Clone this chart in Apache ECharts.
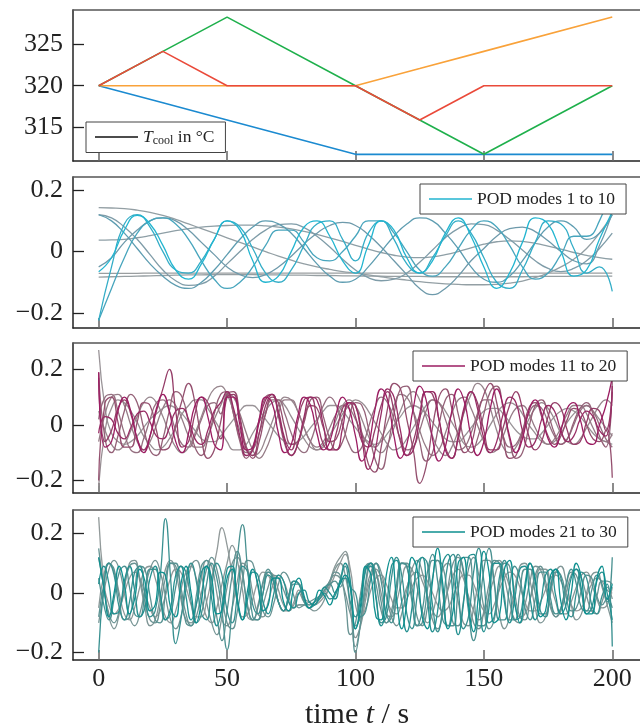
<!DOCTYPE html>
<html><head><meta charset="utf-8">
<script src="https://cdn.jsdelivr.net/npm/echarts@6/dist/echarts.min.js"></script>
<style>html,body{margin:0;padding:0;background:#fff}#c{width:640px;height:727px}</style>
</head><body><div id="c"></div>
<script>
// ---------- Panel 1: coolant temperature ----------
const p1Time = [0, 25, 50, 100, 125, 150, 200];
const p1Blue   = [320, 317.92, 315.83, 311.67, 311.67, 311.67, 311.67];
const p1Orange = [320, 320, 320, 320, 322.08, 324.17, 328.33];
const p1Green  = [320, 324.17, 328.33, 320, 315.83, 311.67, 320];
const p1Red    = [320, 324.17, 320, 320, 315.83, 320, 320];
const p1YTicks = [315, 320, 325];
const xTicks = [0, 50, 100, 150, 200];
const podYTicks = [-0.2, 0, 0.2];

// ---------- Panel 2: POD modes 1-10 (t = 0..200, step 5) ----------
const p2Start = 0, p2Step = 5;
const p2m1 = [-.071,-.071,-.071,-.071,-.070,-.070,-.070,-.070,-.070,-.070,
 -.070,-.070,-.070,-.070,-.070,-.070,-.070,-.070,-.070,-.070,
 -.070,-.070,-.070,-.070,-.070,-.070,-.070,-.070,-.070,-.070,
 -.070,-.070,-.070,-.070,-.070,-.070,-.070,-.070,-.070,-.070,-.070];
const p2m2 = [-.083,-.082,-.081,-.080,-.079,-.078,-.077,-.076,-.076,-.075,
 -.075,-.075,-.075,-.076,-.076,-.077,-.077,-.078,-.078,-.079,
 -.079,-.080,-.080,-.081,-.081,-.081,-.082,-.082,-.082,-.082,
 -.082,-.082,-.082,-.082,-.081,-.081,-.081,-.080,-.080,-.080,-.080];
const p2m3 = [.143,.142,.140,.135,.128,.118,.105,.090,.075,.060,
 .045,.030,.015,0,-.015,-.028,-.040,-.050,-.058,-.065,
 -.070,-.076,-.082,-.088,-.093,-.098,-.102,-.105,-.107,-.108,
 -.108,-.107,-.103,-.096,-.085,-.070,-.050,-.025,.010,.060,.120];
const p2m4 = [.037,.038,.040,.045,.052,.060,.068,.075,.080,.083,
 .085,.086,.086,.084,.080,.074,.066,.056,.045,.033,
 .020,.008,-.003,-.012,-.018,-.020,-.017,-.010,0,.012,
 .024,.032,.035,.033,.027,.018,.008,-.003,-.012,-.020,-.025];
const p2m5 = [.120,.110,.080,.040,-.010,-.060,-.095,-.110,-.105,-.080,
 -.040,0,.040,.070,.088,.090,.078,.050,.015,-.025,
 -.060,-.085,-.095,-.090,-.070,-.035,.005,.045,.075,.090,
 .088,.070,.040,.005,-.030,-.055,-.065,-.055,-.030,.010,.060];
const p2m6 = [-.050,-.020,.030,.070,.100,.110,.100,.070,.030,-.010,
 -.050,-.075,-.085,-.075,-.050,-.015,.025,.060,.085,.095,
 .085,.055,.015,-.030,-.075,-.120,-.140,-.120,-.080,-.030,
 .010,.050,.075,.080,.065,.035,0,-.030,-.040,.020,.130];
const p2m7 = [.120,.100,.060,.010,-.040,-.080,-.110,-.120,-.100,-.060,
 -.010,.040,.080,.100,.090,.060,.010,-.040,-.080,-.100,
 -.090,-.050,0,.050,.090,.110,.100,.060,.010,-.050,
 -.090,-.100,-.080,-.030,.030,.080,.100,.080,.040,.060,.120];
const p2m8 = [-.224,-.120,-.020,.060,.100,.110,.090,.040,-.030,-.090,
 -.120,-.100,-.050,.020,.070,.070,.030,-.020,-.030,0,
 .050,.100,.100,.060,0,-.060,-.080,-.050,.010,.070,
 .100,.080,.020,-.050,-.090,-.070,-.010,.050,.050,.100,.220];
const p2m9 = [-.224,-.050,.090,.120,.080,0,-.060,-.070,-.030,.040,
 .100,.080,.010,-.070,-.100,-.060,.020,.090,.100,.040,
 -.030,.060,.100,.040,-.040,-.070,-.020,.050,.100,.060,
 -.020,-.100,-.120,-.060,.030,.100,.090,.010,-.070,-.050,-.130];
const p2m10 = [-.066,-.020,.070,.118,.090,.020,-.060,-.090,-.040,.040,
 .100,.070,-.030,-.100,-.080,0,.080,.100,.050,-.030,
 -.070,.020,.100,.070,-.020,-.070,-.030,.060,.110,.050,
 -.050,-.120,-.070,.030,.110,.090,0,-.080,-.060,.040,.130];

// ---------- Panel 3: POD modes 11-20 (t = 0..200, step 2.5) ----------
const p3Start = 0, p3Step = 2.5;
const p3m11 = [.27,.06,-.03,-.06,-.07,-.06,-.04,-.01,.02,.04,
 .06,.07,.06,.04,.01,-.02,-.05,-.06,-.06,-.04,
 -.01,.02,.05,.07,.07,.05,.02,-.01,-.04,-.06,
 -.07,-.06,-.04,-.01,.02,.05,.07,.07,.05,.02,
 -.01,-.04,-.06,-.07,-.06,-.03,0,.03,.06,.07,
 .06,.04,.01,-.02,-.05,-.06,-.06,-.04,-.01,.02,
 .05,.06,.06,.04,.01,-.02,-.04,-.05,-.05,-.03,
 0,.03,.05,.06,.05,.03,0,-.03,-.05,-.06,-.07];
const p3m12 = [-.22,-.02,.06,.09,.08,.05,.01,-.04,-.07,-.09,
 -.08,-.05,-.01,.04,.07,.09,.09,.06,.02,-.02,
 -.06,-.09,-.09,-.07,-.03,.01,.05,.08,.09,.07,
 .03,-.01,-.05,-.08,-.09,-.07,-.04,0,.04,.07,
 .09,.08,.05,.01,-.03,-.07,-.09,-.08,-.05,-.01,
 .03,.07,.09,.08,.05,.01,-.03,-.07,-.08,-.07,
 -.04,0,.04,.07,.08,.07,.04,0,-.03,-.06,
 -.07,-.06,-.03,.01,.04,.06,.07,.05,.02,-.01,-.04];
const p3m13 = [.05,-.02,-.07,-.09,-.07,-.02,.03,.08,.10,.08,
 .03,-.03,-.08,-.10,-.08,-.03,.03,.09,.13,.14,
 .11,.05,-.02,-.08,-.11,-.10,-.05,.01,.07,.10,
 .09,.05,-.01,-.06,-.09,-.08,-.04,.02,.07,.09,
 .07,.02,-.04,-.08,-.10,-.07,-.01,.05,.10,.12,
 .09,.03,-.04,-.09,-.11,-.08,-.02,.05,.11,.15,
 .13,.06,-.02,-.08,-.10,-.08,-.03,.02,.06,.08,
 .06,.02,-.03,-.06,-.07,-.05,-.01,.03,.07,.09,.07];
const p3m14 = [-.06,.04,.10,.11,.07,0,-.06,-.09,-.06,0,
 .06,.09,.07,.02,-.04,-.08,-.08,-.04,.02,.07,
 .11,.10,.04,-.03,-.09,-.12,-.09,-.03,.04,.09,
 .09,.05,-.01,-.06,-.08,-.06,-.01,.04,.07,.06,
 .02,-.03,-.07,-.08,-.05,.01,.07,.11,.10,.05,
 -.02,-.08,-.11,-.09,-.03,.04,.09,.10,.06,0,
 -.06,-.10,-.09,-.04,.02,.06,.07,.04,-.01,-.05,
 -.07,-.05,-.01,.04,.07,.07,.04,-.01,-.05,-.06,-.03];
const p3m15 = [.02,.10,.11,.05,-.03,-.09,-.10,-.05,.02,.08,
 .09,.05,-.02,-.07,-.08,-.04,.02,.07,.08,.04,
 .12,.04,-.05,-.10,-.09,-.03,.04,.09,.09,.04,
 -.03,-.08,-.10,-.06,.01,.07,.10,.07,0,-.07,
 -.10,-.08,-.01,.06,.10,.08,.02,-.05,-.09,-.08,
 -.02,.05,.09,.08,.02,-.05,-.09,-.08,-.03,.04,
 .09,.09,.03,-.04,-.08,-.07,-.02,.04,.07,.06,
 .01,-.04,-.07,-.05,0,.05,.07,.05,0,-.05,-.08];
const p3m16 = [.19,-.05,-.10,-.04,.05,.11,.08,-.01,-.09,-.11,
 -.05,.05,.12,.10,.01,-.08,-.11,-.05,.04,.11,
 .12,.04,-.06,-.12,-.08,.02,.10,.11,.03,-.07,
 -.11,-.07,.02,.09,.10,.03,-.05,-.09,-.06,.02,
 .08,.07,-.01,-.12,-.16,-.08,.04,.13,.14,.05,
 -.06,-.13,-.10,0,.09,.11,.04,-.06,-.10,-.05,
 .04,.12,.14,.06,-.05,-.12,-.10,-.01,.07,.09,
 .04,-.03,-.07,-.05,.01,.06,.08,.04,-.04,-.08,.16];
const p3m17 = [-.20,.08,.10,.01,-.08,-.08,.01,.08,.07,-.02,
 -.09,-.08,0,.09,.15,.08,-.05,-.12,-.09,.01,
 .11,.12,.03,-.08,-.12,-.06,.04,.10,.08,-.01,
 -.07,-.06,.01,.07,.06,-.01,-.06,-.05,.02,.08,
 .07,-.03,-.14,-.17,-.08,.06,.15,.13,.02,-.09,
 -.21,-.15,-.01,.10,.13,.06,-.04,-.10,-.07,.03,
 .11,.15,.08,-.04,-.12,-.11,-.03,.06,.08,.03,
 -.04,-.07,-.04,.02,.06,.05,0,-.05,-.06,-.02,-.19];
const p3m18 = [.17,-.06,-.02,.06,.09,.04,-.05,-.09,-.04,.05,
 .13,.20,.05,-.08,-.06,.04,.10,.08,.01,-.05,
 .10,.11,.02,-.09,-.11,-.03,.07,.11,.05,-.05,
 -.09,.01,.09,.10,.02,-.07,-.09,-.03,.06,.08,
 .03,-.06,-.08,-.02,.07,.12,.05,-.06,-.11,-.06,
 .04,.12,.11,.02,-.08,-.12,-.05,.06,.12,.08,
 -.02,-.09,-.09,-.01,.07,.12,.06,-.04,-.09,-.06,
 .03,.08,.06,-.02,-.07,-.06,.01,.06,.05,-.02,.12];
const p3m19 = [-.03,.03,.02,-.03,-.05,-.01,.04,.05,.01,-.04,
 -.05,-.01,.05,.06,.02,-.05,-.07,-.02,.05,.08,
 .12,.06,-.04,-.11,-.09,.01,.09,.11,.04,-.06,
 -.11,-.07,.03,.10,.09,0,-.09,-.09,-.01,.08,
 .07,-.05,-.16,-.10,.04,.13,.10,-.02,-.11,-.09,
 .02,.12,.12,.02,-.09,-.12,-.04,.07,.12,.06,
 -.05,-.10,-.06,.04,.10,.08,-.02,-.08,-.06,.02,
 .07,.05,-.02,-.06,-.04,.02,.05,.03,-.02,-.04,.14];
const p3m20 = [.19,-.08,-.06,.05,.10,.05,-.05,-.10,-.04,.06,
 .11,.05,-.06,-.10,-.03,.07,.10,.03,-.07,-.09,
 .10,.10,0,-.09,-.08,.02,.10,.08,-.03,-.10,
 -.07,.03,.10,.07,-.03,-.09,-.06,.04,.10,.06,
 -.04,-.13,-.08,.05,.13,.09,-.04,-.12,-.07,.06,
 .14,.09,-.05,-.13,-.08,.05,.13,.08,-.04,-.11,
 -.06,.06,.13,.07,-.04,-.10,-.05,.05,.09,.04,
 -.05,-.08,-.02,.06,.08,.02,-.06,-.07,0,.07,.17];

// ---------- Panel 4: POD modes 21-30 (t = 0..200, step 2) ----------
const p4Start = 0, p4Step = 2;
const p4m21 = [.255,.04,-.04,-.07,-.05,0,.05,.07,.05,0,
 -.05,-.08,-.06,-.01,.05,.08,.07,.02,-.04,-.08,
 -.08,-.03,.05,.14,.22,.16,.06,-.03,-.08,-.07,
 -.02,.04,.07,.06,.02,-.03,-.06,-.06,-.03,.01,
 -.02,-.03,-.04,-.03,-.01,.02,.06,.10,.13,.08,
 -.04,-.08,-.05,.01,.05,.06,.03,-.02,-.05,-.05,
 -.02,.02,.05,.06,.04,0,-.04,-.06,-.05,-.01,
 .03,.06,.06,.03,-.02,-.06,-.07,-.04,.01,.05,
 .07,.06,.02,-.03,-.06,-.06,-.03,.01,.05,.06,
 .04,0,-.04,-.06,-.05,-.01,.03,.05,.04,.01,0];
const p4m22 = [-.05,.06,.10,.07,0,-.07,-.09,-.05,.02,.08,
 .09,.05,-.02,-.08,-.10,-.06,.01,.07,.09,.05,
 -.02,-.08,-.10,-.05,.03,.10,.16,.11,.01,-.08,
 -.09,-.04,.03,.07,.06,.01,-.04,-.06,-.04,0,
 -.03,-.04,-.03,-.02,0,.04,.09,.12,.14,.03,
 -.15,-.11,-.02,.05,.08,.05,-.01,-.06,-.07,-.03,
 .02,.06,.07,.04,-.01,-.06,-.08,-.05,.01,.06,
 .08,.05,-.01,-.06,-.09,-.07,-.01,.05,.09,.07,
 .02,-.04,-.08,-.07,-.02,.04,.08,.08,.03,-.03,
 -.07,-.07,-.03,.02,.06,.07,.03,-.02,-.05,-.04,.02];
const p4m23 = [.12,.02,-.08,-.12,-.07,.02,.10,.11,.04,-.05,
 -.11,-.09,-.01,.08,.11,.07,-.02,-.09,-.10,-.04,
 .05,.11,.09,0,-.09,-.11,-.05,.04,.10,.08,
 0,-.07,-.08,-.03,.03,.06,.04,-.01,-.05,-.04,
 -.04,-.05,-.06,-.05,-.02,.03,.08,.10,.06,-.05,
 -.18,-.10,.02,.09,.07,0,-.07,-.08,-.03,.04,
 .09,.08,.02,-.06,-.10,-.07,.01,.08,.10,.05,
 -.03,-.10,-.11,-.05,.04,.11,.11,.03,-.07,-.12,
 -.08,.01,.09,.10,.04,-.05,-.10,-.08,0,.07,
 .09,.04,-.04,-.09,-.07,0,.06,.07,.02,-.04,-.10];
const p4m24 = [-.10,0,.08,.11,.08,0,-.08,-.11,-.07,.01,
 .08,.11,.07,-.01,-.09,-.12,-.08,.01,.09,.11,
 .06,-.03,-.10,-.14,-.08,.02,.10,.12,.06,-.04,
 -.09,-.09,-.04,.02,.06,.05,.01,-.03,-.05,-.04,
 -.04,-.05,-.04,-.02,.01,.04,.06,.05,0,-.07,
 -.11,-.08,0,.07,.10,.07,-.01,-.08,-.11,-.07,
 .01,.08,.11,.07,-.01,-.09,-.12,-.07,.02,.10,
 .12,.07,-.02,-.10,-.12,-.06,.03,.10,.11,.05,
 -.03,-.09,-.10,-.04,.04,.09,.08,.02,-.05,-.08,
 -.06,0,.06,.08,.05,-.01,-.06,-.07,-.03,.02,-.02];
const p4m25 = [.15,.02,-.07,-.10,-.06,.02,.09,.10,.05,-.03,
 -.09,-.10,-.04,.05,.10,.09,.02,-.07,-.11,-.08,
 0,.08,.12,.08,-.01,-.10,-.12,-.06,.04,.11,
 .10,.02,-.06,-.08,-.04,.03,.07,.05,-.01,-.05,
 -.04,-.03,-.02,-.01,.01,.04,.07,.06,-.02,-.14,
 -.10,0,.09,.10,.03,-.06,-.10,-.06,.03,.10,
 .10,.02,-.08,-.11,-.05,.05,.11,.09,-.01,-.10,
 -.11,-.03,.08,.12,.06,-.05,-.12,-.09,.02,.10,
 .09,0,-.08,-.09,-.02,.06,.09,.04,-.04,-.08,
 -.05,.02,.07,.06,0,-.06,-.06,-.01,.04,.04,.03];
const p4m26 = [-.08,.03,.10,.08,-.02,-.09,-.08,.01,.09,.08,
 -.01,-.09,-.10,0,.10,.10,0,-.10,-.11,-.01,
 .09,.11,.02,-.08,-.16,-.06,.06,.14,.07,-.05,
 -.09,-.05,.04,.08,.04,-.03,-.06,-.02,.03,.03,
 -.02,-.04,-.03,-.01,.01,.03,.04,.02,.05,.02,
 -.20,-.10,.04,.10,.07,-.03,-.10,-.08,.03,.10,
 .09,-.01,-.11,-.10,.01,.11,.11,0,-.11,-.11,
 .01,.12,.12,0,-.11,-.11,0,.11,.10,-.01,
 -.09,-.09,0,.08,.08,0,-.07,-.07,.01,.07,
 .06,-.01,-.06,-.05,.01,.06,.05,-.01,-.04,-.02,-.05];
const p4m27 = [.05,-.04,-.09,-.02,.07,.09,.02,-.07,-.08,0,
 .08,.08,-.01,-.09,-.07,.02,.09,.07,-.03,-.10,
 -.07,.03,.10,.05,-.06,-.19,-.05,.12,.23,.08,
 -.08,-.09,0,.07,.05,-.03,-.06,-.01,.04,.03,
 -.03,-.05,-.03,-.01,.02,.03,0,.04,.09,.02,
 0,-.08,-.06,.05,.10,.04,-.07,-.10,0,.10,
 .09,-.03,-.11,-.06,.07,.13,.04,-.09,-.11,.02,
 .13,.08,-.06,-.16,-.07,.08,.15,.04,-.09,-.09,
 .02,.09,.05,-.05,-.09,-.02,.07,.07,-.02,-.07,
 -.05,.03,.08,.03,-.05,-.06,.01,.06,.03,-.03,.12];
const p4m28 = [-.20,.02,.10,.06,-.05,-.09,-.03,.07,.09,0,
 -.08,-.06,.06,.25,.05,-.17,-.09,.04,.10,.04,
 -.07,-.09,.02,.10,.06,-.06,-.10,-.01,.09,.07,
 -.04,-.07,0,.06,.04,-.03,-.06,-.01,.04,.03,
 -.02,-.05,-.04,-.02,0,-.02,-.01,.04,.05,-.03,
 -.08,-.02,.08,.09,-.01,-.10,-.08,.05,.12,.06,
 -.07,-.12,-.01,.12,.10,-.04,-.13,-.05,.10,.13,
 .01,-.12,-.08,.07,.15,.04,-.10,-.08,.05,.11,
 .03,-.09,-.08,.03,.10,.05,-.06,-.08,.02,.08,
 .05,-.05,-.08,0,.07,.05,-.04,-.07,-.01,.03,-.18];
const p4m29 = [.03,.09,.03,-.07,-.06,.04,.09,.01,-.08,-.05,
 .05,.09,0,-.09,-.05,.06,.09,-.01,-.09,-.04,
 .07,.09,-.02,-.11,-.05,.08,.09,-.03,-.09,-.02,
 .07,.06,-.03,-.07,-.01,.06,.04,-.03,-.05,0,
 .01,-.03,-.04,-.01,.02,0,-.02,.04,.10,.04,
 -.12,-.06,.08,.10,-.02,-.11,-.05,.09,.11,-.03,
 -.13,-.05,.10,.12,-.02,-.13,-.06,.10,.13,-.01,
 -.14,-.04,.12,.13,-.01,-.13,-.05,.10,.10,-.03,
 -.10,-.02,.08,.09,-.02,-.09,-.04,.06,.08,-.01,
 -.07,-.04,.05,.08,.01,-.07,-.05,.04,.07,0,-.09];
const p4m30 = [.12,.02,-.08,0,.09,.03,-.07,-.02,.08,.04,
 -.06,-.04,.07,.06,-.05,-.08,.03,.09,0,-.10,
 -.03,.09,.05,-.07,-.06,.05,.08,-.02,-.09,.01,
 .08,.03,-.06,-.04,.05,.05,-.03,-.06,.02,.05,
 -.01,-.05,-.03,.01,-.01,-.04,0,.03,.06,.02,
 -.12,-.04,.09,.06,-.08,-.09,.06,.12,-.02,-.12,
 -.03,.12,.08,-.08,-.12,.04,.15,.03,-.12,-.06,
 .10,.12,-.04,-.13,0,.14,.07,-.10,-.08,.08,
 .11,-.03,-.10,.01,.10,.04,-.08,-.06,.06,.08,
 -.03,-.09,0,.10,.05,-.07,-.07,.05,.09,-.02,.03];

// ---------- styling ----------
const FONT = 'Liberation Serif';
const p1Colors = {blue:'#1b8ad0', orange:'#f9a23a', green:'#1fb04c', red:'#ea4a3a'};
const p2Colors = ['#9a9ea0','#979fa2','#939fa4','#8e9fa6','#7f9ca8','#6e9aab','#5e9db1','#47a5bd','#33adc7','#22b5d0'];
const p3Colors = ['#9a9498','#988e93','#97868d','#967c87','#956f80','#946077','#944f6e','#953d68','#972c64','#9b1d62'];
const p4Colors = ['#929a9a','#8a9898','#819797','#769595','#699393','#5a9292','#4a9191','#389090','#249090','#0e8f8f'];

const p2Data = [p2m1,p2m2,p2m3,p2m4,p2m5,p2m6,p2m7,p2m8,p2m9,p2m10];
const p3Data = [p3m11,p3m12,p3m13,p3m14,p3m15,p3m16,p3m17,p3m18,p3m19,p3m20];
const p4Data = [p4m21,p4m22,p4m23,p4m24,p4m25,p4m26,p4m27,p4m28,p4m29,p4m30];

const fmt = v => v < 0 ? '\u2212' + String(-v) : String(v);

const grids = [
  {left:73, right:0, top:10, height:151},
  {left:73, right:0, top:177, height:151},
  {left:73, right:0, top:343, height:150},
  {left:73, right:0, top:510, height:150}
];
const yRanges = [[310.86, 329.19], [-0.249, 0.243], [-0.245, 0.295], [-0.225, 0.279]];

const xAxes = [], yAxes = [];
grids.forEach((g, i) => {
  xAxes.push({
    gridIndex:i, type:'value', min:-10, max:210.8, position:'bottom',
    axisLine:{show:true, onZero:false, lineStyle:{color:'#222', width:1.5}},
    axisTick:{show:true, inside:true, length:10, customValues:xTicks, lineStyle:{color:'#666', width:1.5}},
    axisLabel:{show:i===3, customValues:xTicks, fontSize:26, fontFamily:FONT, color:'#222', margin:6},
    splitLine:{show:false}
  });
  xAxes.push({
    gridIndex:i, type:'value', min:-10, max:210.8, position:'top',
    axisLine:{show:true, onZero:false, lineStyle:{color:'#555', width:1.5}},
    axisTick:{show:false}, axisLabel:{show:false}, splitLine:{show:false}
  });
  const yt = i === 0 ? p1YTicks : podYTicks;
  yAxes.push({
    gridIndex:i, type:'value', min:yRanges[i][0], max:yRanges[i][1],
    axisLine:{show:true, onZero:false, lineStyle:{color:'#222', width:1.5}},
    axisTick:{show:true, inside:true, length:11, customValues:yt, lineStyle:{color:'#222', width:1.3}},
    axisLabel:{customValues:yt, formatter:fmt, fontSize:26, fontFamily:FONT, color:'#222', margin:10},
    splitLine:{show:false}
  });
});

const series = [];
function lineSeries(name, times, vals, color, gi, smooth, width) {
  return {
    type:'line', name, xAxisIndex:2*gi, yAxisIndex:gi,
    data: vals.map((v, k) => [times(k), v]),
    smooth, symbol:'none', showSymbol:false, color,
    lineStyle:{width, color}, silent:true, animation:false
  };
}
const t1 = k => p1Time[k];
series.push(lineSeries('p1blue', t1, p1Blue, p1Colors.blue, 0, false, 1.6));
series.push(lineSeries('p1orange', t1, p1Orange, p1Colors.orange, 0, false, 1.6));
series.push(lineSeries('p1green', t1, p1Green, p1Colors.green, 0, false, 1.6));
series.push(lineSeries('p1red', t1, p1Red, p1Colors.red, 0, false, 1.6));
series.push({type:'line', name:'Tcool', xAxisIndex:0, yAxisIndex:0, data:[], color:'#111', symbol:'none', lineStyle:{color:'#111'}});

p2Data.forEach((d, k) => series.push(lineSeries(k === 9 ? 'POD modes 1 to 10' : 'p2_' + k, j => p2Start + j * p2Step, d, p2Colors[k], 1, true, 1.3)));
p3Data.forEach((d, k) => series.push(lineSeries(k === 9 ? 'POD modes 11 to 20' : 'p3_' + k, j => p3Start + j * p3Step, d, p3Colors[k], 2, true, 1.3)));
p4Data.forEach((d, k) => series.push(lineSeries(k === 9 ? 'POD modes 21 to 30' : 'p4_' + k, j => p4Start + j * p4Step, d, p4Colors[k], 3, true, 1.3)));

function legendAt(name, left, top, extra) {
  return Object.assign({
    data:[{name}], left, top, orient:'horizontal', selectedMode:false,
    icon:'rect', itemWidth:43, itemHeight:1.5,
    padding:[6, 11, 6, 9], borderColor:'#444', borderWidth:1, borderRadius:0,
    backgroundColor:'#fff', z:10,
    textStyle:{fontFamily:FONT, fontSize:17.5, color:'#222'}
  }, extra || {});
}
const legends = [
  legendAt('Tcool', 86, 122, {
    formatter: () => '{i|T}{s|cool} in \u00B0C',
    textStyle:{fontFamily:FONT, fontSize:17.5, color:'#222',
      rich:{i:{fontFamily:FONT, fontSize:17.5, fontStyle:'italic', color:'#222'},
            s:{fontFamily:FONT, fontSize:12, color:'#222', padding:[7,0,0,0]}}}
  }),
  legendAt('POD modes 1 to 10', 420, 184),
  legendAt('POD modes 11 to 20', 413, 351),
  legendAt('POD modes 21 to 30', 413, 517)
];

const chart = echarts.init(document.getElementById('c'), null, {renderer:'canvas'});
chart.setOption({
  animation:false,
  backgroundColor:'#fff',
  grid: grids,
  xAxis: xAxes,
  yAxis: yAxes,
  legend: legends,
  series,
  graphic:[{
    type:'text', x:357, y:715, z:20,
    style:{
      text:'time {i|t} / s', fill:'#222', fontFamily:FONT, fontSize:30,
      textAlign:'center', textVerticalAlign:'middle',
      rich:{i:{fontFamily:FONT, fontSize:30, fontStyle:'italic', fill:'#222'}}
    }
  }]
});
</script>
</body></html>
